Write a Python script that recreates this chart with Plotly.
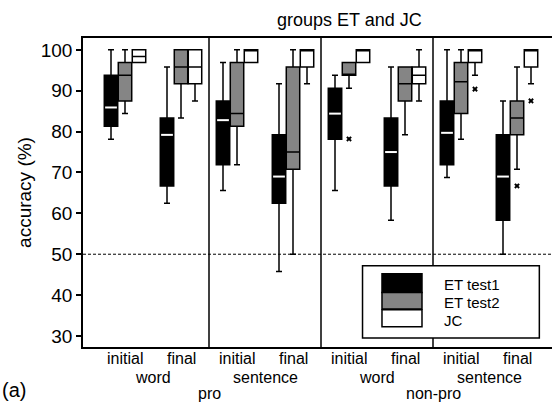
import plotly.graph_objects as go

# ---------------- data ----------------
conditions = ["initial", "final", "initial", "final", "initial", "final", "initial", "final"]
positions = ["word", "sentence", "word", "sentence"]
groups_top = ["pro", "non-pro"]
series_names = ["ET test1", "ET test2", "JC"]

et1_low = [78.1, 62.5, 65.6, 45.8, 65.6, 58.3, 68.8, 50.0]
et1_q1 = [81.3, 66.7, 71.9, 62.5, 78.1, 66.7, 71.9, 58.3]
et1_med = [85.9, 79.2, 82.8, 69.0, 84.4, 75.0, 79.7, 69.0]
et1_q3 = [93.8, 83.3, 87.5, 79.2, 90.6, 83.3, 87.5, 79.2]
et1_high = [100.0, 95.8, 96.9, 91.7, 93.8, 95.8, 100.0, 87.5]

et2_low = [84.4, 83.3, 71.9, 50.0, 90.6, 79.2, 78.1, 70.8]
et2_q1 = [87.5, 91.7, 81.3, 70.8, 93.8, 87.5, 84.4, 79.2]
et2_med = [93.8, 95.8, 84.4, 75.0, 93.8, 91.7, 92.2, 83.3]
et2_q3 = [96.9, 100.0, 96.9, 95.8, 96.9, 95.8, 96.9, 87.5]
et2_high = [100.0, 100.0, 100.0, 100.0, 96.9, 95.8, 100.0, 95.8]

jc_low = [96.9, 87.5, 96.9, 91.7, 96.9, 87.5, 93.8, 91.7]
jc_q1 = [96.9, 91.7, 96.9, 95.8, 96.9, 91.7, 96.9, 95.8]
jc_med = [98.4, 95.8, 100.0, 100.0, 100.0, 93.8, 100.0, 100.0]
jc_q3 = [100.0, 100.0, 100.0, 100.0, 100.0, 95.8, 100.0, 100.0]
jc_high = [100.0, 100.0, 100.0, 100.0, 100.0, 100.0, 100.0, 100.0]

# outliers: (group index, series index, value)
out_group = [4, 6, 7, 7]
out_series = [1, 2, 1, 2]
out_value = [78.2, 90.4, 66.7, 87.5]

y_ticks = [30, 40, 50, 60, 70, 80, 90, 100]
chance_level = 50

# ---------------- styling ----------------
FONT = "Liberation Sans, Arial, Helvetica, sans-serif"
fills = ["#000000", "#858585", "#ffffff"]
offsets = [-0.25, 0.0, 0.25]
BW = 0.24

fig = go.Figure()

stats = [
    (et1_low, et1_q1, et1_med, et1_q3, et1_high),
    (et2_low, et2_q1, et2_med, et2_q3, et2_high),
    (jc_low, jc_q1, jc_med, jc_q3, jc_high),
]

for s, (lo, q1, md, q3, hi) in enumerate(stats):
    xs = [g + offsets[s] for g in range(len(conditions))]
    fig.add_trace(go.Box(
        x=xs, q1=q1, median=md, q3=q3, lowerfence=lo, upperfence=hi,
        name=series_names[s], width=BW, whiskerwidth=0.45,
        fillcolor=fills[s], line=dict(color="black", width=1.5),
        boxpoints=False, showlegend=False, hoverinfo="skip",
    ))

# white median lines on the black boxes
mx, my = [], []
for g, m in enumerate(et1_med):
    c = g + offsets[0]
    mx += [c - BW / 2 + 0.015, c + BW / 2 - 0.015, None]
    my += [m, m, None]
fig.add_trace(go.Scatter(x=mx, y=my, mode="lines", line=dict(color="white", width=2),
                         showlegend=False, hoverinfo="skip"))

# outliers
fig.add_trace(go.Scatter(
    x=[g + offsets[s] for g, s in zip(out_group, out_series)], y=out_value,
    mode="markers", marker=dict(symbol="x", size=5, color="black"),
    showlegend=False, hoverinfo="skip"))

shapes = []
# panel dividers
for xd in [1.5, 3.5, 5.5]:
    shapes.append(dict(type="line", xref="x", yref="paper", x0=xd, x1=xd, y0=0, y1=1,
                       line=dict(color="black", width=1.5), layer="below"))
# chance line
shapes.append(dict(type="line", xref="paper", yref="y", x0=0, x1=1, y0=chance_level, y1=chance_level,
                   line=dict(color="black", width=1, dash="3px,2px"), layer="below"))
# legend box
shapes.append(dict(type="rect", xref="paper", yref="paper", x0=0.596, x1=0.973, y0=0.029, y1=0.263,
                   fillcolor="white", line=dict(color="black", width=1.5), layer="above"))
sw = [(0.2372, 0.1767), (0.1767, 0.1230), (0.1207, 0.0657)]
for s in range(3):
    shapes.append(dict(type="rect", xref="paper", yref="paper", x0=0.6375, x1=0.7228,
                       y0=sw[s][1], y1=sw[s][0], fillcolor=fills[s],
                       line=dict(color="black", width=1.5), layer="above"))

annotations = []
leg_y = [0.2016, 0.1434, 0.0861]
for s in range(3):
    annotations.append(dict(text=series_names[s], xref="paper", yref="paper", x=0.765, y=leg_y[s],
                            xanchor="left", yanchor="middle", showarrow=False,
                            font=dict(size=15, color="black", family=FONT)))
for i, c in enumerate(conditions):
    annotations.append(dict(text=c, xref="x", yref="paper", x=i, y=-0.038,
                            xanchor="center", yanchor="middle", showarrow=False,
                            font=dict(size=16, color="black", family=FONT)))
for i, p in enumerate(positions):
    annotations.append(dict(text=p, xref="x", yref="paper", x=2 * i + 0.5, y=-0.0994,
                            xanchor="center", yanchor="middle", showarrow=False,
                            font=dict(size=16, color="black", family=FONT)))
for i, gname in enumerate(groups_top):
    annotations.append(dict(text=gname, xref="x", yref="paper", x=4 * i + 1.5, y=-0.151,
                            xanchor="center", yanchor="middle", showarrow=False,
                            font=dict(size=16, color="black", family=FONT)))
annotations.append(dict(text="groups ET and JC", xref="paper", yref="paper", x=0.727, y=1.059,
                        xanchor="right", yanchor="middle", showarrow=False,
                        font=dict(size=18, color="black", family=FONT)))
annotations.append(dict(text="(a)", xref="paper", yref="paper", x=-0.148, y=-0.138,
                        xanchor="center", yanchor="middle", showarrow=False,
                        font=dict(size=20, color="black", family=FONT)))

fig.update_layout(
    width=552, height=406,
    margin=dict(l=83, r=0, t=38, b=59),
    paper_bgcolor="white", plot_bgcolor="white",
    font=dict(family=FONT, color="black"),
    boxmode="overlay",
    shapes=shapes, annotations=annotations,
    xaxis=dict(range=[-0.75, 7.625], showline=True, linecolor="black", linewidth=1.5, mirror=True,
               showgrid=False, zeroline=False, ticks="", showticklabels=False),
    yaxis=dict(range=[27.3, 102.9], showline=True, linecolor="black", linewidth=1.5, mirror=False,
               showgrid=False, zeroline=False, ticks="outside", ticklen=5, tickwidth=1.5,
               tickcolor="black", tickvals=y_ticks,
               tickfont=dict(size=19, family=FONT, color="black"),
               title=dict(text="accuracy (%)", font=dict(size=19, family=FONT, color="black"),
                          standoff=4)),
)

fig.write_html("out.html", config={"displayModeBar": False},
               post_script="document.body.style.margin='0';document.body.style.padding='0';")
